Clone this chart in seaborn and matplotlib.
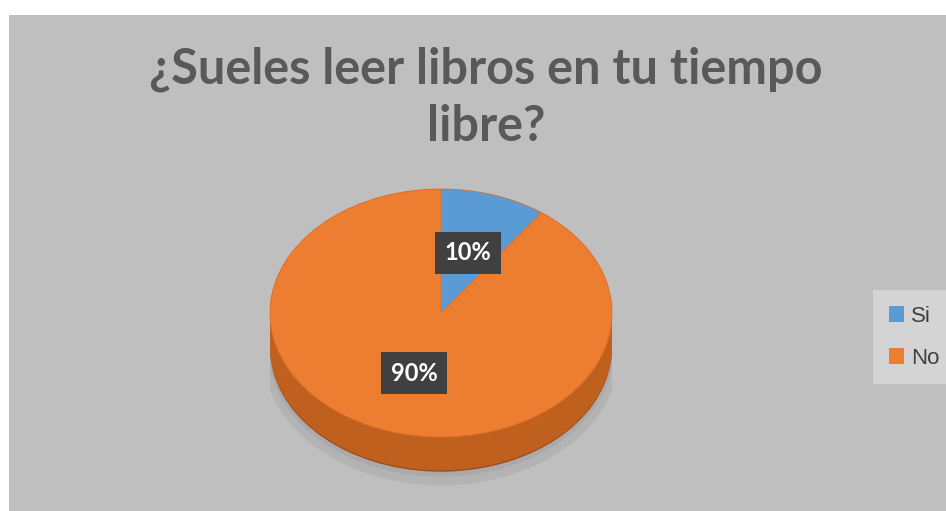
import matplotlib
matplotlib.use("Agg")
import matplotlib.pyplot as plt
import seaborn as sns
from matplotlib.patches import Rectangle, Ellipse

# Data
labels = ["Si", "No"]
values = [10, 90]
colors = ["#5B9BD5", "#ED7D31"]
side_colors = ["#3F7DB5", "#C0601E"]
title = "¿Sueles leer libros en tu tiempo\nlibre?"

sns.set_theme(style="white")
plt.rcParams["font.family"] = ["Lato", "DejaVu Sans"]

W, H = 946, 511
fig = plt.figure(figsize=(W / 100, H / 100), dpi=100)
fig.patch.set_facecolor("white")

# gray chart area
fig.patches.append(Rectangle((9 / W, 0), 1 - 9 / W, 1 - 15 / H, transform=fig.transFigure,
                             facecolor="#BFBFBF", edgecolor="none", zorder=-5))

fig.text(486 / W, 1 - 98 / H, title, ha="center", va="center", fontsize=35,
         fontweight="bold", color="#595959", linespacing=1.33)

# pie axes: unit circle squashed to an ellipse (rx=171px, ry=125px)
cx, cy, rx, ry = 441, 313, 171, 124
depth = 0.28
ylo = -1 - depth - 0.25
ax = fig.add_axes([(cx - rx) / W, (H - (cy - ylo * ry)) / H, 2 * rx / W, (1 - ylo) * ry / H])
ax.set_facecolor("none")

# soft shadow
ax.add_patch(Ellipse((0.0, -depth - 0.05), 2.08, 2.12, facecolor="#A9A9A9", alpha=0.5,
                     edgecolor="none", zorder=0))
ax.add_patch(Ellipse((0.0, -depth - 0.02), 2.02, 2.04, facecolor="#A3A3A3", alpha=0.5,
                     edgecolor="none", zorder=0))

# side of the 3D pie
n = 24
for i in range(n + 1):
    d = depth * (1 - i / n)
    ax.pie(values, colors=side_colors if i > 0 else ["#2F6A9E", "#A24C18"], startangle=90,
           counterclock=False, center=(0, -d), radius=1,
           wedgeprops=dict(linewidth=0))

# top face
wedges, texts, autotexts = ax.pie(values, colors=colors, startangle=90, counterclock=False,
                                  radius=1, autopct="%1.0f%%", pctdistance=0.51,
                                  wedgeprops=dict(linewidth=0.6, edgecolor="#E07028"),
                                  textprops=dict(color="white", fontsize=17, fontweight="bold"))
for t in autotexts:
    t.set_bbox(dict(boxstyle="square,pad=0.4", facecolor="#404040", edgecolor="none"))

ax.set_aspect("auto")
ax.set_xlim(-1, 1)
ax.set_ylim(ylo, 1)
ax.axis("off")

leg = fig.legend(wedges, labels, loc="upper left", bbox_to_anchor=(873 / W, 1 - 290 / H),
                 frameon=True, fancybox=False, handlelength=0.7,
                 handleheight=0.7, handletextpad=0.3, labelspacing=0.95, borderpad=0.7,
                 borderaxespad=0, labelcolor="#404040",
                 prop=dict(family="Liberation Sans", size=16))
leg.get_frame().set_facecolor("#D4D4D4")
leg.get_frame().set_edgecolor("none")
leg.get_frame().set_alpha(1)
for h in leg.legend_handles:
    h.set_edgecolor("none")

fig.savefig("out.png", dpi=100)
